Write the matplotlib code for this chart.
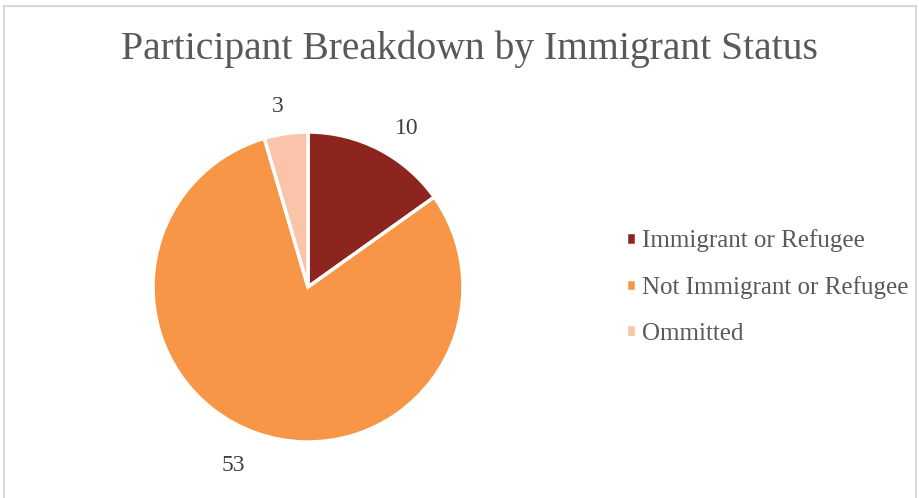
import matplotlib.pyplot as plt
from matplotlib.lines import Line2D

# данные
categories = ['Immigrant or Refugee', 'Not Immigrant or Refugee', 'Ommitted']
counts = [10, 53, 3]
colors = ['#8B251E', '#F79646', '#F9C4A9']

plt.rcParams['font.family'] = ['Liberation Serif', 'DejaVu Serif']

fig = plt.figure(figsize=(9.2, 4.98), dpi=100)

# рамка диаграммы
fig.add_artist(Line2D([4/920, 916/920], [1 - 6/498, 1 - 6/498], color='#d9d9d9', lw=1.5))
fig.add_artist(Line2D([4/920, 4/920], [0, 1 - 6/498], color='#d9d9d9', lw=1.5))
fig.add_artist(Line2D([916/920, 916/920], [0, 1 - 6/498], color='#d9d9d9', lw=1.5))

ax = fig.add_axes([(308 - 155) / 920, (498 - 287 - 155) / 498, 310 / 920, 310 / 498])
wedges, texts = ax.pie(counts, labels=[str(c) for c in counts], colors=colors,
                       startangle=90, counterclock=False, labeldistance=1.22,
                       wedgeprops=dict(edgecolor='white', linewidth=2.5),
                       textprops=dict(fontsize=17, color='#404040'))
for t in texts:
    t.set_ha('center')
    t.set_va('center')
# небольшая подстройка подписей, как в оригинале
x, y = texts[0].get_position()
texts[0].set_position((x + 0.08, y - 0.06))
x, y = texts[1].get_position()
texts[1].set_position((x - 0.08, y))
x, y = texts[2].get_position()
texts[2].set_position((x - 0.02, y - 0.04))
ax.set_xlim(-1, 1)
ax.set_ylim(-1, 1)
ax.set_aspect('equal')
ax.axis('off')
for w in wedges:
    w.set_clip_on(False)

fig.text(469 / 920, 1 - 49 / 498, 'Participant Breakdown by Immigrant Status',
         ha='center', va='center', fontsize=28.5, color='#595959')

fig.legend(wedges, categories, loc='center left', bbox_to_anchor=(603 / 920, 1 - 287 / 498),
           frameon=False, fontsize=18, labelcolor='#595959',
           handlelength=0.4, handleheight=0.4, handletextpad=0.25, labelspacing=0.95)

plt.savefig('out.png', dpi=100)
